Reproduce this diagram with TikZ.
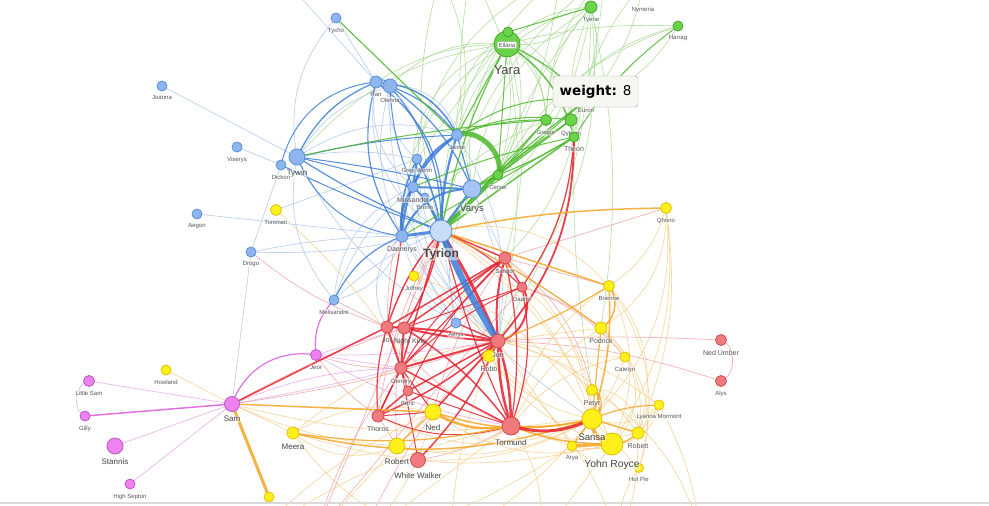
\documentclass[tikz,border=0pt]{standalone}
\usepackage{fontspec}
\setmainfont{Liberation Sans}
\newfontfamily\tipfont{DejaVu Sans}
\pgfdeclarelayer{bg}\pgfdeclarelayer{edges}
\pgfsetlayers{bg,edges,main}
\definecolor{cB}{HTML}{3B7DD8}\definecolor{cBl}{HTML}{A7C3EC}
\definecolor{cG}{HTML}{4DB82B}\definecolor{cGl}{HTML}{A5D98F}
\definecolor{cR}{HTML}{E5202E}\definecolor{cRl}{HTML}{EE9A9A}
\definecolor{cO}{HTML}{F5A524}\definecolor{cOl}{HTML}{F7CC86}
\definecolor{cP}{HTML}{DA5ADA}\definecolor{cPl}{HTML}{E7A6E7}
\definecolor{fB}{HTML}{8DB6F0}\definecolor{dB}{HTML}{5B8FDB}\definecolor{fBt}{HTML}{C9DCF7}
\definecolor{fG}{HTML}{6BD34A}\definecolor{dG}{HTML}{45A52A}
\definecolor{fY}{HTML}{FFEF1A}\definecolor{dY}{HTML}{E3C300}
\definecolor{fR}{HTML}{F07A7E}\definecolor{dR}{HTML}{D04B4B}
\definecolor{fP}{HTML}{EE82EE}\definecolor{dP}{HTML}{C055C8}
\definecolor{labc}{HTML}{555555}\definecolor{labd}{HTML}{444444}
\newcommand{\lfs}[1]{\fontsize{#1}{#1}\selectfont}
\newcommand{\chr}[7]{%
  \node[#5, minimum size=#4pt] (#1) at (#2,#3) {};
  \node[lab, yshift=-3.5pt, #6] (#1l) at (#1.south) {#7};}
\newcommand{\edg}[4]{\draw[#1] (#2.center) to[#4] (#3.center);}
\begin{document}
\begin{tikzpicture}[x=1pt,y=-1pt,
  nd/.style={circle, inner sep=0pt, line width=0.8pt},
  nB/.style={nd, fill=fB, draw=dB},
  nG/.style={nd, fill=fG, draw=dG},
  nY/.style={nd, fill=fY, draw=dY},
  nR/.style={nd, fill=fR, draw=dR},
  nP/.style={nd, fill=fP, draw=dP},
  lab/.style={font=\lfs{6}, text=labc, anchor=north, inner sep=0.6pt,
    fill=white, fill opacity=0.5, text opacity=1, rounded corners=1pt},
  labm/.style={font=\lfs{7}},
  labb/.style={font=\lfs{8}, text=labd},
  labB/.style={font=\lfs{9.5}, text=labd},
  eb/.style={draw=cB, line width=#1, draw opacity=.85}, eb/.default=1pt,
  ebl/.style={draw=cBl, line width=#1, draw opacity=.75}, ebl/.default=.7pt,
  eg/.style={draw=cG, line width=#1, draw opacity=.85}, eg/.default=1pt,
  egl/.style={draw=cGl, line width=#1, draw opacity=.75}, egl/.default=.7pt,
  er/.style={draw=cR, line width=#1, draw opacity=.85}, er/.default=1pt,
  erl/.style={draw=cRl, line width=#1, draw opacity=.75}, erl/.default=.7pt,
  eo/.style={draw=cO, line width=#1, draw opacity=.85}, eo/.default=1pt,
  eol/.style={draw=cOl, line width=#1, draw opacity=.75}, eol/.default=.7pt,
  ep/.style={draw=cP, line width=#1, draw opacity=.85}, ep/.default=1pt,
  epl/.style={draw=cPl, line width=#1, draw opacity=.8}, epl/.default=.7pt,
  tip/.style={draw=gray!70, fill={rgb,255:red,247;green,247;blue,242}, rounded corners=3pt,
    minimum width=85pt, minimum height=31pt, inner sep=0pt, font=\tipfont\lfs{13.5}, text=black}
]
\useasboundingbox (0,0) rectangle (989,506);
\begin{pgfonlayer}{bg}\fill[white] (0,0) rectangle (989,506);\end{pgfonlayer}

% ---------- blue nodes
\chr{Tycho}{336}{18}{10}{nB}{}{Tycho}
\chr{Joanna}{162}{86}{10}{nB}{}{Joanna}
\chr{Ranna}{376}{82}{12}{nB}{}{Ran}
\chr{Olenna}{390}{86}{14}{nB}{}{Olenna}
\chr{Jaime}{457}{135}{11}{nB}{}{Jaime}
\chr{Viserys}{237}{147}{10}{nB}{}{Viserys}
\chr{Tywin}{297}{157}{16}{nB}{labb}{Tywin}
\chr{Dickon}{281}{165}{10}{nB}{}{Dickon}
\chr{GreyWorm}{417}{159}{10}{nB}{}{Grey Worm}
\chr{Bronn}{425}{197}{8}{nB}{}{Bronn}
\chr{Missandei}{413}{187}{11}{nB}{labm}{Missandei}
\chr{Varys}{472}{189}{18}{nB, fill=fB!80!white}{labB, yshift=-2pt}{Varys}
\chr{Daenerys}{402}{236}{12}{nB}{labm}{Daenerys}
\chr{Tyrion}{441}{231}{22}{nB, fill=fBt}{font=\lfs{12}\bfseries, text=labd, yshift=-2pt}{Tyrion}
\chr{Aegon}{197}{214}{10}{nB}{}{Aegon}
\chr{Drogo}{251}{252}{10}{nB}{}{Drogo}
\chr{Melisandre}{334}{300}{10}{nB}{}{Melisandre}
\chr{Aerys}{456}{323}{10}{nB}{}{Aerys}
% ---------- green nodes
\chr{Yara}{507}{44}{26}{nG}{font=\lfs{13}, text=labd, yshift=-4pt}{Yara}
\node[nG, minimum size=10pt] (Ellaria) at (508,32) {};
\node[lab, anchor=center, fill opacity=1, draw=gray!40, inner sep=1pt] (Ellarial) at (507,45) {Ellaria};
\chr{Tyene}{591}{7}{12}{nG}{}{Tyene}
\node[lab, anchor=center] (Nymeria) at (643,10) {Nymeria};
\chr{Harrag}{678}{26}{10}{nG}{}{Harrag}
\chr{Euron}{586}{100}{8}{nG}{}{Euron}
\chr{Gregor}{546}{120}{11}{nG}{}{Gregor}
\chr{Qyburn}{571}{120}{12}{nG}{}{Qyburn}
\chr{Theon}{574}{137}{10}{nG}{labm}{Theon}
\chr{Cersei}{498}{175}{10}{nG}{}{Cersei}
% ---------- yellow nodes
\chr{Tommen}{276}{210}{11}{nY}{}{Tommen}
\chr{Qhono}{666}{208}{11}{nY}{}{Qhono}
\chr{Joffrey}{414}{276}{10}{nY}{}{Joffrey}
\chr{Brienne}{609}{286}{11}{nY}{}{Brienne}
\chr{Podrick}{601}{328}{12}{nY}{labm}{Podrick}
\chr{Catelyn}{625}{357}{10}{nY}{}{Catelyn}
\chr{Robb}{489}{356}{12}{nY}{labm}{Robb}
\chr{Howland}{166}{370}{10}{nY}{}{Howland}
\chr{Petyr}{592}{390}{11}{nY}{labm}{Petyr}
\chr{Lyanna}{659}{405}{10}{nY}{}{Lyanna Mormont}
\chr{Robett}{638}{433}{12}{nY}{labm}{Robett}
\chr{HotPie}{639}{468}{9}{nY}{}{Hot Pie}
\chr{AryaS}{572}{446}{10}{nY}{}{Arya}
\chr{YohnRoyce}{612}{444}{22}{nY}{font=\lfs{10.3}, text=labd}{Yohn Royce}
\chr{Sansa}{592}{419}{20}{nY}{labB}{Sansa}
\chr{Ned}{433}{412}{16}{nY}{labb}{Ned}
\chr{Meera}{293}{433}{12}{nY}{labb}{Meera}
\chr{Robert}{397}{446}{16}{nY}{labb}{Robert}
\node[nY, minimum size=10pt] (ybot) at (269,497) {};
% ---------- red nodes
\chr{Sandor}{505}{258}{12}{nR}{}{Sandor}
\chr{Daario}{522}{287}{10}{nR}{}{Daario}
\chr{Jon}{498}{341}{14}{nR}{labm}{Jon}
\chr{NightKing}{404}{328}{12}{nR}{labm, xshift=6pt, fill opacity=0}{Night King}
\chr{Jorah}{387}{327}{12}{nR}{labm, fill opacity=0}{Jor}
\chr{Gendry}{401}{368}{12}{nR}{}{Gendry}
\chr{Beric}{408}{391}{10}{nR}{}{Beric}
\chr{Thoros}{378}{416}{12}{nR}{labm}{Thoros}
\chr{Tormund}{511}{426}{18}{nR}{labb}{Tormund}
\chr{WhiteWalker}{418}{460}{15}{nR}{labb}{White Walker}
\chr{NedUmber}{721}{340}{11}{nR}{labm}{Ned Umber}
\chr{Alys}{721}{381}{11}{nR}{}{Alys}
% ---------- purple nodes
\chr{Jeor}{316}{355}{11}{nP}{}{Jeor}
\chr{LittleSam}{89}{381}{11}{nP}{}{Little Sam}
\chr{Sam}{232}{404}{15}{nP}{labb}{Sam}
\chr{Gilly}{85}{416}{10}{nP}{}{Gilly}
\chr{Stannis}{115}{446}{16}{nP}{labb}{Stannis}
\chr{HighSepton}{130}{484}{10}{nP}{}{High Septon}

% ---------- off-canvas ends
\coordinate (off1) at (296,-8);
\coordinate (offT1) at (560,-25);
\coordinate (offT2) at (605,-25);
\coordinate (offT3) at (470,-25);
\coordinate (offT4) at (440,-25);
\coordinate (offT5) at (645,-20);
\coordinate (offB1) at (315,535);
\coordinate (offB2) at (360,540);
\coordinate (offB3) at (450,540);
\coordinate (offB4) at (540,540);
\coordinate (offB5) at (620,540);
\coordinate (offB6) at (700,530);
\coordinate (offB7) at (250,540);

\begin{pgfonlayer}{edges}
\begin{scope}
\clip (0,0) rectangle (989,506);
% light blue
\edg{ebl}{Joanna}{Tywin}{}
\edg{ebl}{Viserys}{Dickon}{}
\edg{ebl}{Aegon}{Daenerys}{}
\edg{ebl}{Drogo}{Daenerys}{bend left=5}
\edg{ebl}{Drogo}{Dickon}{}
\edg{ebl}{Drogo}{Sam}{}
\edg{ebl}{Tycho}{Ranna}{}
\edg{ebl}{off1}{Ranna}{}
\edg{ebl}{Tycho}{Tywin}{bend right=25}
\edg{ebl}{Tommen}{GreyWorm}{}
\edg{ebl}{Aerys}{Daenerys}{}
\edg{ebl}{Aerys}{Tyrion}{}
\edg{ebl}{Daenerys}{Jon}{bend right=30}
\edg{ebl}{Melisandre}{Missandei}{bend left=15}
\edg{ebl}{Melisandre}{Tyrion}{bend left=10}
\edg{ebl}{Drogo}{Tyrion}{bend right=8}
\edg{ebl}{Missandei}{Aerys}{bend right=20}
\edg{ebl}{Olenna}{Daenerys}{bend right=20}
\edg{ebl}{GreyWorm}{Tywin}{bend right=10}
\edg{ebl}{Daenerys}{Sansa}{bend right=10}
\edg{ebl}{Tyrion}{Podrick}{bend left=5}
\edg{ebl}{Varys}{Jon}{bend left=15}
\edg{ebl}{Jaime}{Olenna}{bend right=40}
\edg{ebl}{Ranna}{Missandei}{bend right=30}
\edg{ebl}{Missandei}{Jon}{bend right=20}
\edg{ebl}{Varys}{Sandor}{}
\edg{ebl}{Tywin}{Melisandre}{bend right=25}
\edg{ebl}{Olenna}{Jon}{bend right=25}
\edg{ebl}{Ranna}{Tyrion}{bend right=35}
\edg{ebl}{GreyWorm}{Jon}{bend right=20}
\edg{ebl}{Jaime}{Jon}{bend left=20}
\edg{ebl}{Daenerys}{Melisandre}{bend left=30}
\edg{ebl}{Missandei}{Melisandre}{bend right=30}
\edg{ebl}{Daenerys}{Jorah}{bend right=40}
\edg{ebl}{Varys}{Aerys}{bend right=20}
\edg{ebl}{Tywin}{Jon}{bend right=20}
\edg{ebl}{Olenna}{Tywin}{bend right=20}
\edg{ebl}{Jaime}{Tywin}{bend right=25}
\edg{ebl}{Ranna}{GreyWorm}{bend left=40}
\edg{ebl}{Olenna}{GreyWorm}{bend right=30}
\edg{ebl}{Jaime}{Bronn}{bend right=30}
% light green
\edg{egl}{Yara}{Tyene}{bend left=20}
\edg{egl}{Harrag}{Yara}{bend right=8}
\edg{egl}{Tyene}{Theon}{bend right=15}
\edg{egl}{Tyene}{Varys}{bend right=25}
\edg{egl}{Tyene}{Cersei}{bend right=10}
\edg{egl}{Tyene}{Jon}{bend left=15}
\edg{egl}{Tyene}{Podrick}{bend left=10}
\edg{egl}{Yara}{Daenerys}{bend right=30}
\edg{egl}{Yara}{Missandei}{bend right=40}
\edg{egl}{Yara}{Olenna}{bend right=25}
\edg{egl}{Yara}{Ranna}{bend right=15}
\edg{egl}{Yara}{Jon}{bend left=10}
\edg{egl}{Ellaria}{GreyWorm}{}
\edg{egl}{Ellaria}{Gregor}{bend left=20}
\edg{egl}{offT1}{Cersei}{bend left=10}
\edg{egl}{offT2}{Theon}{bend left=5}
\edg{egl}{offT3}{Varys}{bend right=10}
\edg{egl}{offT4}{Tyrion}{bend right=15}
\edg{egl}{offT2}{Tyrion}{bend right=20}
\edg{egl}{offT1}{Missandei}{bend right=30}
\edg{egl}{Yara}{Sandor}{bend left=15}
\edg{egl}{Tyene}{Daario}{bend left=20}
\edg{egl}{Harrag}{Gregor}{bend right=20}
\edg{egl}{Theon}{Petyr}{bend right=5}
\edg{egl}{Yara}{Gregor}{bend left=25}
\edg{egl}{Yara}{Qyburn}{bend left=30}
\edg{egl}{Tyene}{Yara}{bend left=30}
\edg{egl}{Tyene}{Gregor}{bend right=20}
\edg{egl}{Tyene}{Qyburn}{bend left=25}
\edg{egl}{Tyene}{Jaime}{bend right=30}
\edg{egl}{Tyene}{Tyrion}{bend left=25}
\edg{egl}{Ellaria}{Theon}{bend left=30}
\edg{egl}{Ellaria}{Varys}{bend right=20}
\edg{egl}{Ellaria}{Cersei}{bend left=25}
\edg{egl}{Ellaria}{Jaime}{bend right=30}
\edg{egl}{Harrag}{Euron}{bend left=20}
\edg{egl}{Harrag}{Cersei}{bend right=20}
\edg{egl}{offT2}{Gregor}{bend right=20}
\edg{egl}{offT3}{Cersei}{bend left=25}
\edg{egl}{offT4}{Jaime}{bend left=20}
\edg{egl}{offT1}{Tyrion}{bend right=25}
\edg{egl}{offT5}{Theon}{bend right=15}
\edg{egl}{offT5}{Qyburn}{bend left=15}
\edg{egl}{Yara}{Tywin}{bend right=20}
\edg{egl}{Theon}{Sandor}{bend left=15}
\edg{egl}{Gregor}{Daenerys}{bend right=15}
% light red
\edg{erl}{NedUmber}{Alys}{bend left=75}
\edg{erl}{NedUmber}{Jon}{bend right=3}
\edg{erl}{Alys}{Jon}{bend right=8}
\edg{erl}{Qhono}{Sandor}{}
\edg{erl}{Jon}{Sam}{bend left=5}
\edg{erl}{Tyrion}{Thoros}{bend right=10}
\edg{erl}{Sandor}{Ned}{bend right=10}
\edg{erl}{Daario}{Podrick}{bend left=10}
\edg{erl}{WhiteWalker}{Tormund}{bend right=10}
\edg{erl}{Robert}{Jon}{}
\edg{erl}{Thoros}{Robert}{}
\edg{erl}{Tyrion}{Robert}{bend right=15}
\edg{erl}{Daario}{offB1}{}
\edg{erl}{Sam}{NightKing}{bend left=5}
\edg{erl}{Thoros}{Jeor}{bend left=10}
\edg{erl}{Jorah}{Drogo}{bend left=10}
\edg{erl}{Jorah}{Melisandre}{}
\edg{erl}{Jorah}{Missandei}{bend left=10}
\edg{erl}{Gendry}{Jeor}{bend left=10}
\edg{erl}{Sandor}{Petyr}{bend left=20}
\edg{erl}{Daario}{Catelyn}{bend left=15}
\edg{erl}{Sandor}{Brienne}{}
\edg{erl}{Jorah}{Tormund}{bend right=15}
\edg{erl}{Jon}{offB2}{bend right=10}
\edg{erl}{Gendry}{offB1}{bend right=10}
% light orange
\edg{eol}{Howland}{Sam}{}
\edg{eol}{Sam}{Meera}{}
\edg{eol}{Sam}{Robert}{bend right=10}
\edg{eol}{Tommen}{Ned}{bend left=10}
\edg{eol}{Meera}{Ned}{bend left=20}
\edg{eol}{Meera}{Robert}{bend right=30}
\edg{eol}{Qhono}{Brienne}{bend left=20}
\edg{eol}{Qhono}{Podrick}{bend left=30}
\edg{eol}{Qhono}{Sansa}{bend left=25}
\edg{eol}{Brienne}{YohnRoyce}{bend left=25}
\edg{eol}{Podrick}{Jon}{}
\edg{eol}{Podrick}{Robett}{bend left=30}
\edg{eol}{Catelyn}{Sansa}{bend left=10}
\edg{eol}{Catelyn}{Robb}{}
\edg{eol}{Catelyn}{Podrick}{}
\edg{eol}{Robb}{Sansa}{bend right=20}
\edg{eol}{Robb}{Tyrion}{}
\edg{eol}{Lyanna}{Jon}{bend right=15}
\edg{eol}{Lyanna}{Robett}{}
\edg{eol}{Lyanna}{Sansa}{bend left=30}
\edg{eol}{Robett}{Tormund}{bend left=15}
\edg{eol}{HotPie}{AryaS}{bend left=25}
\edg{eol}{HotPie}{Sansa}{}
\edg{eol}{AryaS}{Tormund}{}
\edg{eol}{AryaS}{Jon}{}
\edg{eol}{Joffrey}{Tyrion}{}
\edg{eol}{Joffrey}{Sansa}{bend left=20}
\edg{eol}{Joffrey}{Jon}{}
\edg{eol}{Ned}{Jon}{}
\edg{eol}{Robert}{Sansa}{bend right=20}
\edg{eol}{WhiteWalker}{Sansa}{bend right=15}
\edg{eol}{Meera}{YohnRoyce}{bend right=15}
\edg{eol}{Sansa}{offB3}{bend left=10}
\edg{eol}{YohnRoyce}{offB4}{}
\edg{eol}{Robett}{offB5}{bend left=10}
\edg{eol}{AryaS}{offB2}{bend left=10}
\edg{eol}{Tormund}{offB2}{}
\edg{eol}{Ned}{offB7}{bend right=10}
\edg{eol}{Meera}{offB3}{bend right=20}
\edg{eol}{Lyanna}{offB6}{bend left=10}
\edg{erl}{Tyrion}{offB1}{}
\edg{eol}{Qhono}{YohnRoyce}{bend left=20}
\edg{eol}{Qhono}{Robett}{bend left=15}
\edg{eol}{Brienne}{Robett}{bend left=30}
\edg{eol}{Brienne}{HotPie}{bend left=25}
\edg{eol}{Podrick}{HotPie}{bend left=35}
\edg{eol}{Catelyn}{YohnRoyce}{bend left=40}
\edg{eol}{Petyr}{Robett}{bend left=50}
\edg{eol}{Lyanna}{YohnRoyce}{bend left=40}
\edg{eol}{Lyanna}{AryaS}{bend left=40}
\edg{eol}{Brienne}{Tormund}{bend right=20}
\edg{eol}{Podrick}{Tormund}{bend right=15}
\edg{eol}{Sandor}{Sansa}{bend left=20}
\edg{eol}{Daario}{Sansa}{bend left=25}
\edg{eol}{Tyrion}{Sansa}{bend left=20}
\edg{eol}{Tyrion}{Brienne}{bend left=30}
\edg{eol}{Tyrion}{YohnRoyce}{bend left=15}
\edg{eol}{Jon}{Robett}{bend left=20}
\edg{eol}{Jon}{Petyr}{bend left=15}
\edg{eol}{Robb}{YohnRoyce}{bend right=20}
\edg{eol}{Catelyn}{Tormund}{bend right=20}
\edg{eol}{Ned}{YohnRoyce}{bend right=25}
\edg{eol}{Robert}{Tormund}{bend right=25}
\edg{eol}{Thoros}{Sansa}{bend right=25}
\edg{eol}{Meera}{Jon}{bend left=15}
\edg{eol}{Sam}{Tormund}{bend right=10}
\edg{eol}{Tormund}{offB4}{bend left=20}
\edg{eol}{Jon}{offB3}{bend right=10}
\edg{eol}{Robb}{offB5}{bend left=15}
\edg{eol}{Petyr}{offB6}{bend left=20}
\edg{eol}{HotPie}{offB5}{bend right=20}
\edg{eol}{Ned}{offB2}{bend left=15}
\edg{eol}{Robert}{offB1}{}
\edg{eol}{Sansa}{offB7}{bend right=15}
% light purple
\edg{epl}{Sam}{LittleSam}{}
\edg{epl}{LittleSam}{Gilly}{bend right=80}
\edg{epl}{Sam}{Stannis}{}
\edg{epl}{Sam}{HighSepton}{}
\edg{epl}{Jeor}{Jon}{bend right=5}
\edg{epl}{Jeor}{NightKing}{}
\edg{epl}{Sam}{Jon}{bend right=3}
\edg{epl}{Jeor}{Gendry}{}
\edg{epl}{Jeor}{Tormund}{bend right=10}
\edg{epl}{Sam}{Gendry}{bend left=10}
% strong blue
\edg{eb=1pt}{Tywin}{Jaime}{bend left=5}
\edg{eb=1.3pt}{Tywin}{Ranna}{bend left=20}
\edg{eb=1pt}{Dickon}{Ranna}{bend left=35}
\edg{eb=1pt}{Tywin}{Daenerys}{bend right=30}
\edg{eb=1pt}{Dickon}{Tyrion}{bend right=3}
\edg{eb=1.2pt}{Tywin}{Tyrion}{bend right=5}
\edg{eb=1pt}{Tywin}{Missandei}{}
\edg{eb=1pt}{Tywin}{Varys}{bend left=3}
\edg{eb=1.5pt}{Ranna}{Jaime}{bend left=30}
\edg{eb=1.2pt}{Olenna}{Jaime}{bend left=15}
\edg{eb=1.2pt}{Ranna}{Olenna}{bend left=70}
\edg{eb=1.2pt}{Ranna}{Daenerys}{bend right=25}
\edg{eb=1.2pt}{Olenna}{Varys}{bend left=15}
\edg{eb=1pt}{Olenna}{Missandei}{bend right=10}
\edg{eb=1.2pt}{Olenna}{Tyrion}{bend left=20}
\edg{eb=1.2pt}{Ranna}{Tyrion}{bend left=30}
\edg{eb=2pt}{Jaime}{Missandei}{bend right=20}
\edg{eb=2pt}{Jaime}{Daenerys}{bend right=25}
\edg{eb=2.2pt}{Jaime}{Tyrion}{bend right=8}
\edg{eb=1.2pt}{Jaime}{Varys}{}
\edg{eb=2pt}{Missandei}{GreyWorm}{}
\edg{eb=2.5pt}{Missandei}{Daenerys}{bend right=20}
\edg{eb=2pt}{Missandei}{Varys}{}
\edg{eb=1.5pt}{GreyWorm}{Daenerys}{bend right=15}
\edg{eb=1.5pt}{GreyWorm}{Tyrion}{bend left=10}
\edg{eb=2pt}{Missandei}{Tyrion}{bend left=15}
\edg{eb=2pt}{Varys}{Daenerys}{bend right=35}
\edg{eb=2.5pt}{Varys}{Tyrion}{}
\edg{eb=1.5pt}{Bronn}{Tyrion}{}
\edg{eb=1.2pt}{Melisandre}{Daenerys}{bend left=20}
\edg{eb=3pt}{Daenerys}{Tyrion}{}
% strong green
\edg{eg=1.2pt}{Tycho}{Jaime}{}
\edg{eg=1pt}{Tywin}{Gregor}{bend left=4}
\edg{eg=1.2pt}{Yara}{Jaime}{}
\edg{eg=1.2pt}{Yara}{Tyrion}{bend right=8}
\edg{eg=1.5pt}{Yara}{Theon}{bend left=20}
\edg{eg=1.2pt}{Yara}{Euron}{bend left=10}
\edg{eg=1pt}{Yara}{Cersei}{}
\edg{eg=1pt}{Ellaria}{Tyene}{}
\edg{eg=1pt}{Harrag}{Theon}{bend right=10}
\edg{eg=1.2pt}{Cersei}{Gregor}{}
\edg{eg=1.5pt}{Cersei}{Qyburn}{}
\edg{eg=1.2pt}{Cersei}{Euron}{}
\edg{eg=1.2pt}{Cersei}{Theon}{bend right=5}
\edg{eg=2pt}{Cersei}{Varys}{}
\edg{eg=1.5pt}{Theon}{Tyrion}{}
\edg{eg=1.2pt}{Euron}{Tyrion}{bend right=5}
\edg{eg=1pt}{Gregor}{Tyrion}{}
\edg{eg=1.2pt}{Qyburn}{Varys}{}
\edg{eg=1pt}{Theon}{Daenerys}{}
\edg{eg=1pt}{Gregor}{Jaime}{bend right=10}
\edg{eg=1pt}{Qyburn}{Jaime}{bend right=15}
\edg{eg=1pt}{Euron}{Jaime}{bend right=20}
\edg{eg=1pt}{Theon}{Missandei}{bend right=5}
% strong red
\edg{er=1.5pt}{Sam}{Jorah}{}
\edg{er=2pt}{Jon}{Sandor}{bend left=10}
\edg{er=2pt}{Daario}{Jon}{bend left=60}
\edg{er=1.5pt}{Sandor}{Tyrion}{}
\edg{er=1.5pt}{Sandor}{Daario}{}
\edg{er=1.2pt}{Daario}{Tyrion}{bend right=10}
\edg{er=1.8pt}{Theon}{Jon}{bend left=20}
\edg{er=1.2pt}{Theon}{Daario}{bend left=15}
\edg{er=2pt}{Jon}{Jorah}{bend right=5}
\edg{er=2pt}{Jon}{NightKing}{bend left=5}
\edg{er=2pt}{Jon}{Gendry}{}
\edg{er=1.5pt}{Jon}{Beric}{}
\edg{er=1.5pt}{Jon}{Thoros}{bend left=8}
\edg{er=1.5pt}{Jon}{Robb}{}
\edg{er=1.2pt}{Jon}{Aerys}{}
\edg{er=1.5pt}{Jon}{WhiteWalker}{bend left=10}
\edg{er=2pt}{NightKing}{Gendry}{}
\edg{er=2pt}{Jorah}{Gendry}{}
\edg{er=1.5pt}{Gendry}{Beric}{}
\edg{er=1.5pt}{Beric}{Thoros}{}
\edg{er=1.5pt}{Thoros}{Gendry}{}
\edg{er=1.5pt}{NightKing}{Tyrion}{bend right=10}
\edg{er=1.5pt}{Jorah}{Tyrion}{bend left=10}
\edg{er=1.5pt}{Gendry}{Tyrion}{}
\edg{er=1.2pt}{Jorah}{Daenerys}{}
\edg{er=1.5pt}{NightKing}{Tormund}{bend left=10}
\edg{er=1.5pt}{Gendry}{Tormund}{}
\edg{er=1pt}{Beric}{Tormund}{}
\edg{er=1pt}{Thoros}{Tormund}{bend right=20}
\edg{er=1.5pt}{NightKing}{Sandor}{}
\edg{er=1.5pt}{Jorah}{Sandor}{}
\edg{er=1.2pt}{Gendry}{Sandor}{}
\edg{er=1.2pt}{Thoros}{Jorah}{bend left=10}
\edg{er=1.5pt}{Ned}{Jon}{}
\edg{er=1.2pt}{Ned}{Gendry}{}
\edg{er=1pt}{WhiteWalker}{Gendry}{}
\edg{er=1pt}{Thoros}{Ned}{}
\edg{er=1.5pt}{Jorah}{NightKing}{}
\edg{er=1.2pt}{Tyrion}{Tormund}{bend right=5}
\edg{er=1.2pt}{Sandor}{Tormund}{bend left=10}
\edg{er=1.2pt}{Daario}{Tormund}{bend left=15}
\edg{er=1pt}{Gendry}{Daario}{bend left=10}
\edg{er=1pt}{Beric}{Sandor}{bend left=10}
\edg{er=1pt}{NightKing}{Daario}{}
\edg{er=1pt}{Thoros}{Sandor}{bend left=15}
% strong orange
\edg{eo=1.5pt}{Qhono}{Tyrion}{bend right=5}
\edg{eo=1.5pt}{Brienne}{Tyrion}{}
\edg{eo=1.5pt}{Brienne}{Podrick}{bend left=50}
\edg{eo=1.5pt}{Brienne}{Sansa}{bend left=10}
\edg{eo=1.2pt}{Podrick}{Tyrion}{bend right=5}
\edg{eo=1.2pt}{Podrick}{Sansa}{}
\edg{eo=1.5pt}{Robb}{Jon}{}
\edg{eo=1.2pt}{Lyanna}{Sansa}{bend right=10}
\edg{eo=1.5pt}{Robett}{Sansa}{}
\edg{eo=1.2pt}{Robett}{YohnRoyce}{bend left=20}
\edg{eo=1.5pt}{AryaS}{Sansa}{}
\edg{eo=1.5pt}{YohnRoyce}{Tormund}{bend left=10}
\edg{eo=2.5pt}{Ned}{Tormund}{bend right=20}
\edg{eo=1.5pt}{Ned}{Sansa}{bend right=15}
\edg{eo=1.5pt}{Sam}{Ned}{}
\edg{eo=3pt}{Sam}{ybot}{}
\edg{eo=1.5pt}{Meera}{Sansa}{bend right=15}
\edg{eo=1.2pt}{Meera}{Tormund}{bend right=10}
\edg{eo=1.5pt}{Sansa}{Tormund}{bend left=8}
\edg{eo=1.2pt}{Brienne}{Jon}{bend left=5}
\edg{eo=1.2pt}{Ned}{Robert}{}
% purple
\edg{ep=1.5pt}{Sam}{Gilly}{}
\edg{ep=1.2pt}{Sam}{Jeor}{bend left=40}
\edg{ep=1.2pt}{Jeor}{Melisandre}{bend left=25}
% thick
\edg{er=3pt}{Tyrion}{Jon}{bend left=4}
\edg{er=2.5pt}{Jon}{Tormund}{bend left=8}
\edg{er=2.5pt}{Jon}{Tormund}{bend right=8}
\edg{er=3pt}{Tormund}{Sansa}{bend right=20}
\edg{eg=5pt}{Jaime}{Cersei}{bend left=65}
\edg{eg=4pt}{Cersei}{Tyrion}{}
\edg{eo=4pt}{Sansa}{YohnRoyce}{bend right=45}
\edg{eo=3pt}{AryaS}{YohnRoyce}{}
\edg{eo=3pt}{Petyr}{Sansa}{bend left=80}
\edg{eb=6.5pt}{Tyrion}{Jon}{bend right=5}
\end{scope}
\end{pgfonlayer}

% tooltip
\node[tip] (tip) at (595.5,91.5) {\textbf{weight:} 8};
% bottom rule of the panel
\draw[draw=gray!30, line width=1.2pt] (0,503) -- (989,503);
\end{tikzpicture}
\end{document}
